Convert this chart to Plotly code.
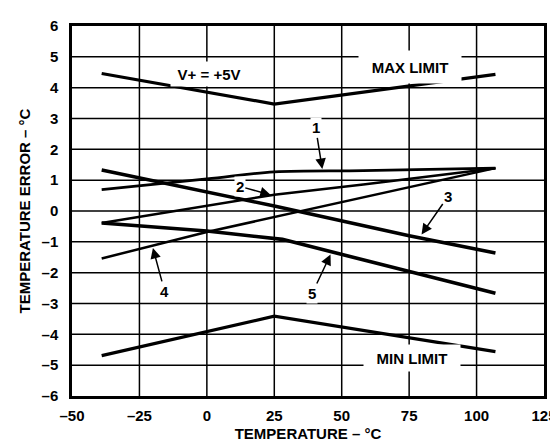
import plotly.graph_objects as go

# ---- data ----
limit_temp = [-39, 25, 107]
max_limit = [4.46, 3.47, 4.43]
min_limit = [-4.69, -3.41, -4.56]

c1_temp = [-39, 0, 25, 58, 107]
c1_err = [0.69, 1.04, 1.27, 1.31, 1.39]

c2_temp = [-39, 0, 25, 58, 107]
c2_err = [-0.39, 0.16, 0.53, 0.86, 1.39]

c3_temp = [-39, 25, 75, 107]
c3_err = [1.33, 0.16, -0.80, -1.36]

c4_temp = [-39, 0, 107]
c4_err = [-1.54, -0.68, 1.39]

c5_temp = [-39, 0, 28, 75, 107]
c5_err = [-0.39, -0.65, -0.92, -1.95, -2.67]

x_ticks = [-50, -25, 0, 25, 50, 75, 100, 125]
x_ticktext = ["–50", "–25", "0", "25", "50", "75", "100", "125"]
y_ticks = [-6, -5, -4, -3, -2, -1, 0, 1, 2, 3, 4, 5, 6]
y_ticktext = ["–6", "–5", "–4", "–3", "–2", "–1", "0", "1", "2", "3", "4", "5", "6"]

# curve labels: (label, tip temp, tip err, ax px, ay px)
curve_labels = [
    ("1", 42.8, 1.36, -6.6, -41.3),
    ("2", 23.7, 0.52, -31.0, -8.6),
    ("3", 79.6, -0.76, 26.7, -38.3),
    ("4", -20.0, -1.20, 11.7, 43.4),
    ("5", 45.85, -1.41, -18.4, 39.0),
]

FONT = "Liberation Sans"

fig = go.Figure()

def add_line(x, y, w, shape="linear"):
    fig.add_trace(go.Scatter(x=x, y=y, mode="lines",
                             line=dict(color="black", width=w, shape=shape),
                             showlegend=False, hoverinfo="skip"))

add_line(limit_temp, max_limit, 3.2)
add_line(limit_temp, min_limit, 3.2)
add_line(c1_temp, c1_err, 2.8, "spline")
add_line(c2_temp, c2_err, 2.5)
add_line(c3_temp, c3_err, 3.5)
add_line(c4_temp, c4_err, 2.5)
add_line(c5_temp, c5_err, 3.6)

# grid drawn from the tick arrays
for v in x_ticks[1:-1]:
    fig.add_shape(type="line", xref="x", yref="paper", x0=v, x1=v, y0=0, y1=1,
                  line=dict(color="black", width=1.5), layer="above")
for v in y_ticks[1:-1]:
    fig.add_shape(type="line", xref="paper", yref="y", x0=0, x1=1, y0=v, y1=v,
                  line=dict(color="black", width=1.5), layer="above")

bold = dict(family=FONT, size=15, color="black", weight="bold")

# text labels with white backgrounds
fig.add_annotation(x=0.8, y=4.43, text="V+ = +5V", showarrow=False,
                   font=bold, bgcolor="white", width=74, height=22)
fig.add_annotation(x=75.5, y=4.68, text="MAX LIMIT", showarrow=False,
                   font=bold, bgcolor="white", width=100, height=30)
fig.add_annotation(x=76.2, y=-4.78, text="MIN LIMIT", showarrow=False,
                   font=bold, bgcolor="white", width=94, height=24)

for lab, tx, ty, ax, ay in curve_labels:
    fig.add_annotation(x=tx, y=ty, ax=ax, ay=ay, text=lab, showarrow=True,
                       arrowhead=2, arrowsize=1.4, arrowwidth=1.5,
                       arrowcolor="black", font=bold, bgcolor="white",
                       standoff=0)

fig.update_layout(
    width=558, height=441,
    margin=dict(l=64, r=14, t=9, b=48),
    paper_bgcolor="white", plot_bgcolor="white",
    font=dict(family=FONT, color="black"),
    xaxis=dict(range=[-50, 125], tickvals=x_ticks, ticktext=x_ticktext,
               showgrid=False,
               showline=True, linecolor="black", linewidth=2.5, mirror=True,
               zeroline=False, ticks="outside", ticklen=4, tickcolor="white",
               tickfont=bold,
               title=dict(text="TEMPERATURE – °C", font=bold, standoff=6)),
    yaxis=dict(range=[-6, 6], tickvals=y_ticks, ticktext=y_ticktext,
               showgrid=False,
               showline=True, linecolor="black", linewidth=2.5, mirror=True,
               zeroline=False, ticks="outside", ticklen=8, tickcolor="white",
               tickfont=bold,
               title=dict(text="TEMPERATURE ERROR – °C", font=bold, standoff=8)),
)

fig.write_html("out.html")
